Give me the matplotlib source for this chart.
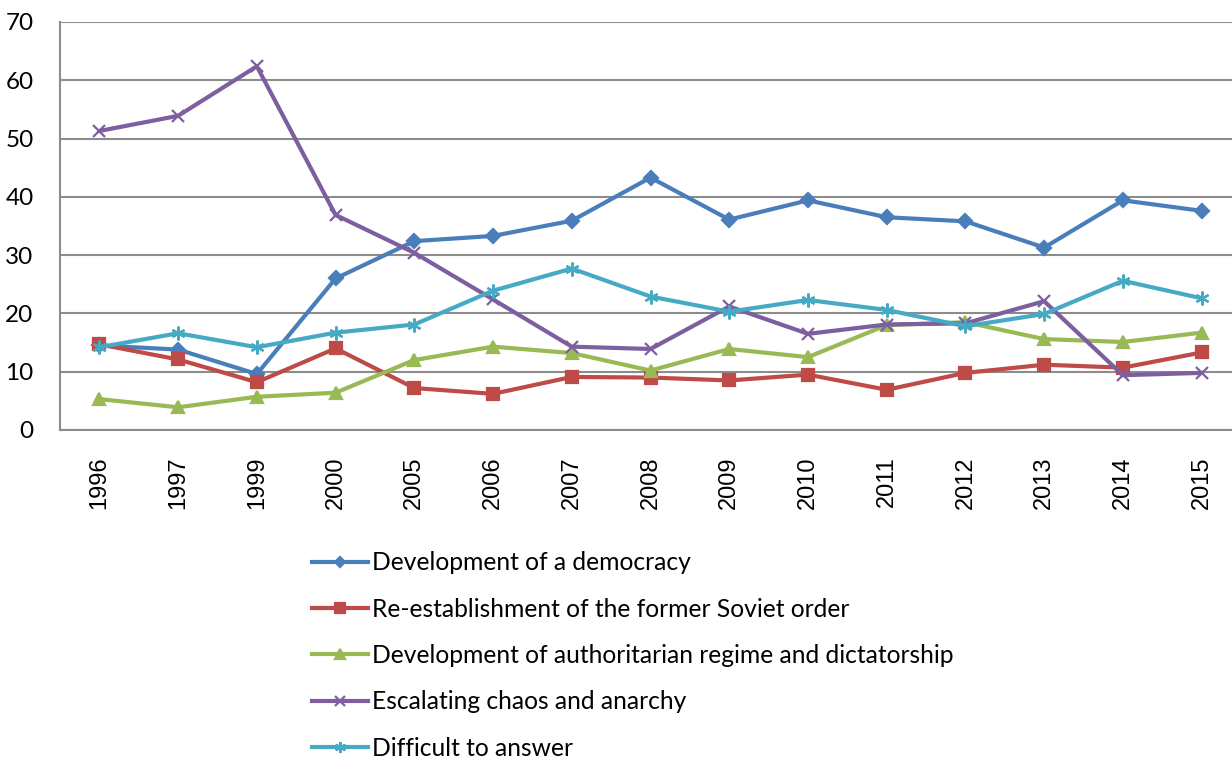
import matplotlib.pyplot as plt

years = ['1996', '1997', '1999', '2000', '2005', '2006', '2007', '2008',
         '2009', '2010', '2011', '2012', '2013', '2014', '2015']

democracy = [14.5, 13.8, 9.6, 26.0, 32.4, 33.3, 35.9, 43.3, 36.1, 39.4, 36.5, 35.8, 31.3, 39.4, 37.6]
soviet_order = [14.7, 12.1, 8.2, 14.0, 7.2, 6.2, 9.1, 9.0, 8.5, 9.5, 6.9, 9.8, 11.2, 10.7, 13.3]
authoritarian = [5.3, 3.9, 5.7, 6.4, 12.0, 14.3, 13.2, 10.2, 13.9, 12.5, 18.0, 18.5, 15.6, 15.1, 16.7]
chaos = [51.3, 53.9, 62.4, 36.9, 30.4, 22.4, 14.3, 13.9, 21.2, 16.5, 18.1, 18.3, 22.1, 9.4, 9.8]
difficult = [14.2, 16.6, 14.2, 16.7, 18.1, 23.9, 27.7, 22.9, 20.3, 22.3, 20.6, 17.8, 19.9, 25.6, 22.6]

labels = ['Development of a democracy',
          'Re-establishment of the former Soviet order',
          'Development of authoritarian regime and dictatorship',
          'Escalating chaos and anarchy',
          'Difficult to answer']

series = [democracy, soviet_order, authoritarian, chaos, difficult]
colors = ['#4a7ebb', '#be4b48', '#98b954', '#7d5fa0', '#46aac5']
markers = ['D', 's', '^', 'x', (6, 2, 0)]
msizes = [7, 9, 9, 9, 10]

W, H = 1232, 762
fig = plt.figure(figsize=(W / 100, H / 100), dpi=100)
ax = fig.add_axes([60 / W, (H - 430) / H, 1181 / W, 408 / H])

x = list(range(len(years)))
for vals, lab, c, m, ms in zip(series, labels, colors, markers, msizes):
    ax.plot(x, vals, color=c, lw=3, marker=m, ms=ms, mew=1.6,
            mec=c, mfc=c, label=lab, solid_joinstyle='round')

ax.set_xlim(-0.5, len(years) - 0.5)
ax.set_ylim(0, 70)
ax.set_yticks(range(0, 71, 10))
ax.set_xticks(x)
ax.set_xticklabels(years, rotation=90, fontsize=17, family='Liberation Sans')
for t in ax.get_yticklabels():
    t.set_fontsize(17.5)
    t.set_family('Lato')
ax.tick_params(axis='both', length=0, pad=19, colors='black')
ax.grid(axis='y', color='#8c8c8c', lw=1.5)
ax.set_axisbelow(True)
for s in ['top', 'right']:
    ax.spines[s].set_visible(False)
for s in ['left', 'bottom']:
    ax.spines[s].set_color('#8c8c8c')
    ax.spines[s].set_linewidth(1.5)

fig.legend(loc='upper left', bbox_to_anchor=(300 / W, 1 - 539 / H),
           frameon=False, prop={'family': 'Lato', 'size': 17.7},
           handlelength=2.25, handletextpad=0.16, labelspacing=0.95,
           borderpad=0, markerscale=0.8)

fig.savefig('out.png', dpi=100)
